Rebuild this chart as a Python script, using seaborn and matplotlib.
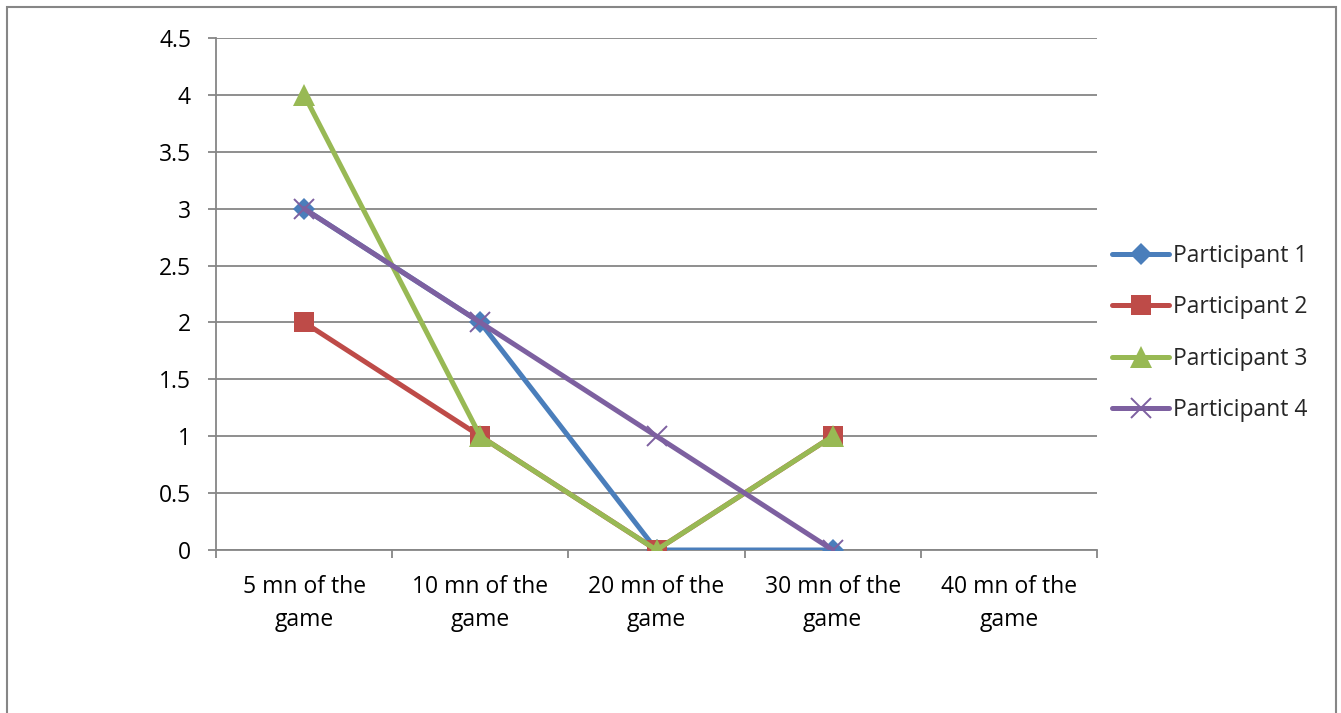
import matplotlib
matplotlib.use("Agg")
import matplotlib.pyplot as plt
import seaborn as sns
import numpy as np
import pandas as pd
from matplotlib.patches import Rectangle

# Time points and scores per participant (no score recorded at 40 mn)
categories = ["5 mn of the\ngame", "10 mn of the\ngame", "20 mn of the\ngame",
              "30 mn of the\ngame", "40 mn of the\ngame"]
participant_1 = [3, 2, 0, 0, np.nan]
participant_2 = [2, 1, 0, 1, np.nan]
participant_3 = [4, 1, 0, 1, np.nan]
participant_4 = [3, 2, 1, 0, np.nan]
y_ticks = [0, 0.5, 1, 1.5, 2, 2.5, 3, 3.5, 4, 4.5]

series = {
    "Participant 1": participant_1,
    "Participant 2": participant_2,
    "Participant 3": participant_3,
    "Participant 4": participant_4,
}
styles = {
    "Participant 1": dict(color="#4A7EBB", marker="D", markersize=11, markeredgewidth=0),
    "Participant 2": dict(color="#BE4B48", marker="s", markersize=14, markeredgewidth=0),
    "Participant 3": dict(color="#98B954", marker="^", markersize=16, markeredgewidth=0),
    "Participant 4": dict(color="#7D60A0", marker="x", markersize=14, markeredgewidth=1.4),
}

sns.set_theme(style="white")
plt.rcParams["font.family"] = ["Open Sans", "DejaVu Sans"]

fig = plt.figure(figsize=(13.41, 7.13), dpi=100)
ax = fig.add_axes([216 / 1341, 1 - 550 / 713, 881 / 1341, 512 / 713])

x_pos = np.arange(len(categories))
for name, values in series.items():
    df = pd.DataFrame({"x": x_pos, "y": values}).dropna()
    st = styles[name]
    sns.lineplot(data=df, x="x", y="y", ax=ax, label=name, color=st["color"],
                 marker=st["marker"], markersize=st["markersize"],
                 markeredgewidth=st["markeredgewidth"],
                 markeredgecolor=st["color"], linewidth=3.6, zorder=3)

grid_color = "#868686"
ax.set_xlim(-0.5, len(categories) - 0.5)
ax.set_ylim(0, 4.5)
ax.set_yticks(y_ticks)
ax.set_yticklabels([f"{v:g}" for v in y_ticks])
ax.set_xticks(x_pos)
ax.set_xticklabels(categories, linespacing=1.5)
ax.set_xticks(np.arange(-0.5, len(categories)), minor=True)
ax.grid(axis="y", color=grid_color, linewidth=1.3)
ax.set_axisbelow(True)
ax.set_xlabel("")
ax.set_ylabel("")

for side in ["top", "right"]:
    ax.spines[side].set_visible(False)
for side in ["left", "bottom"]:
    ax.spines[side].set_color(grid_color)
    ax.spines[side].set_linewidth(1.3)

ax.tick_params(axis="y", which="major", left=True, length=6, width=1.3,
               color=grid_color, labelsize=16.5, pad=12, labelcolor="black")
ax.tick_params(axis="x", which="major", bottom=False, labelsize=16.5, pad=12,
               labelcolor="black")
ax.tick_params(axis="x", which="minor", bottom=True, length=6, width=1.3,
               color=grid_color)

leg = ax.legend(loc="center left", bbox_to_anchor=(1112 / 1341, 1 - 333 / 713),
                bbox_transform=fig.transFigure, frameon=False, fontsize=16.5,
                handlelength=2.5, handletextpad=0.15, labelspacing=1.18,
                borderpad=0, borderaxespad=0)

# Chart area border
fig.patches.append(Rectangle((7 / 1341, -0.05), (1336 - 7) / 1341, 1.05 - 7 / 713,
                             transform=fig.transFigure, fill=False,
                             edgecolor=grid_color, linewidth=1.5, clip_on=False))

fig.savefig("out.png", dpi=100)
